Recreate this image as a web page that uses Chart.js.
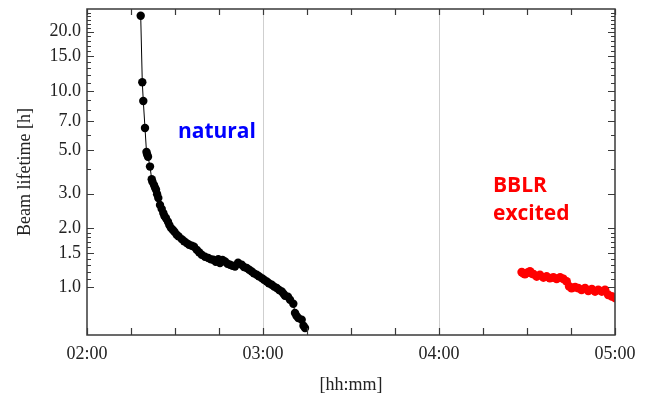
<!DOCTYPE html>
<html>
<head>
<meta charset="utf-8">
<script src="https://cdn.jsdelivr.net/npm/chart.js@4/dist/chart.umd.min.js"></script>
<style>
  html, body { margin: 0; padding: 0; background: #fff; }
  canvas { display: block; }
</style>
</head>
<body>
<canvas id="c" width="650" height="401"></canvas>
<script>
// ---- data (time in minutes after midnight, lifetime in hours) ----
const naturalTime = [138.31,138.85,139.19,139.77,140.28,140.5,140.8,141.48,142.06,142.3,142.84,143.2,143.52,143.9,144.31,144.89,145.47,146.01,146.4,146.93,147.6,148.06,148.6,149.22,149.8,150.58,151.2,152.28,153.1,153.99,154.8,155.69,156.5,157.4,158.2,159.1,160.23,161.35,162.3,163.06,163.9,164.76,165.34,166.2,167.05,167.9,168.75,169.6,170.45,171.5,172.74,173.5,174.44,175.3,176.15,176.9,177.85,178.6,179.56,180.34,181.26,182.0,182.97,183.8,184.67,185.5,186.38,187.0,187.5,188.5,189.2,190.33,190.91,191.4,192.03,193.19,193.8,194.32];
const naturalLifetime = [24.1,11.06,8.89,6.48,4.89,4.75,4.62,4.12,3.55,3.45,3.32,3.22,3.14,2.98,2.85,2.63,2.51,2.39,2.31,2.25,2.16,2.08,2.01,1.965,1.92,1.853,1.82,1.762,1.72,1.681,1.65,1.629,1.61,1.554,1.51,1.466,1.432,1.411,1.39,1.383,1.35,1.394,1.33,1.38,1.356,1.32,1.304,1.29,1.279,1.335,1.304,1.27,1.255,1.23,1.206,1.18,1.16,1.14,1.116,1.094,1.073,1.05,1.032,1.01,0.993,0.97,0.954,0.93,0.907,0.897,0.866,0.826,0.741,0.718,0.699,0.685,0.639,0.622];

const excitedTime = [268.2,268.8,269.3,270.2,271.0,271.6,272.2,273.3,274.4,275.6,276.7,277.8,279.0,280.1,281.3,282.4,283.5,284.4,285.2,286.4,287.5,288.6,289.8,290.9,292.1,293.2,294.3,295.5,296.6,297.7,298.9,300.0];
const excitedLifetime = [1.197,1.18,1.170,1.19,1.206,1.18,1.170,1.137,1.160,1.124,1.137,1.116,1.124,1.107,1.124,1.107,1.073,1.012,0.993,1.005,0.993,0.973,0.993,0.962,0.981,0.954,0.973,0.954,0.973,0.918,0.900,0.884];

// ---- ticks ----
const xTickValues = [120, 180, 240, 300];
const xTickLabels = ['02:00', '03:00', '04:00', '05:00'];
const xMinorTicks = [135,150,165,195,210,225,255,270,285];
const yTickValues = [1.0, 1.5, 2.0, 3.0, 5.0, 7.0, 10.0, 15.0, 20.0];
const yTickLabels = ['1.0', '1.5', '2.0', '3.0', '5.0', '7.0', '10.0', '15.0', '20.0'];
const yMinorTicks = [1.1,1.2,1.3,1.4,1.6,1.7,1.8,1.9,4,6,8,9,11,12,13,14,16,17,18,19,21,22,23,24,25];

const annotationTexts = ['natural', 'BBLR', 'excited'];

const axisFont = { family: '"Liberation Serif", "Times New Roman", serif', size: 18 };
const frameColor = '#3a3a3a';
const textColor = '#222';

const decorations = {
  id: 'decorations',
  afterDatasetsDraw(chart) {
    const { ctx, chartArea: a, scales: { x, y } } = chart;
    ctx.save();
    ctx.strokeStyle = frameColor;
    ctx.lineWidth = 1.2;
    ctx.beginPath();
    const xt = xTickValues.concat(xMinorTicks);
    xt.forEach(v => {
      const px = Math.round(x.getPixelForValue(v)) + 0.5;
      ctx.moveTo(px, a.bottom); ctx.lineTo(px, a.bottom - 7);
      ctx.moveTo(px, a.top); ctx.lineTo(px, a.top + 6);
    });
    yTickValues.forEach(v => {
      const py = Math.round(y.getPixelForValue(v)) + 0.5;
      ctx.moveTo(a.left, py); ctx.lineTo(a.left + 7, py);
      ctx.moveTo(a.right, py); ctx.lineTo(a.right - 7, py);
    });
    yMinorTicks.forEach(v => {
      const py = Math.round(y.getPixelForValue(v)) + 0.5;
      ctx.moveTo(a.left, py); ctx.lineTo(a.left + 4, py);
      ctx.moveTo(a.right, py); ctx.lineTo(a.right - 4, py);
    });
    ctx.stroke();
    ctx.lineWidth = 1.5;
    ctx.strokeRect(a.left, a.top, a.width, a.height);

    ctx.font = 'bold 21px "Open Sans", "Noto Sans", sans-serif';
    ctx.textBaseline = 'alphabetic';
    ctx.textAlign = 'left';
    ctx.fillStyle = '#0000ff';
    ctx.fillText(annotationTexts[0], x.getPixelForValue(151.0), y.getPixelForValue(5.77));
    ctx.fillStyle = '#ff0000';
    ctx.fillText(annotationTexts[1], x.getPixelForValue(258.4), y.getPixelForValue(3.07));
    ctx.fillText(annotationTexts[2], x.getPixelForValue(258.4), y.getPixelForValue(2.21));
    ctx.restore();
  }
};

new Chart(document.getElementById('c'), {
  type: 'scatter',
  data: {
    datasets: [
      {
        label: 'natural',
        data: naturalTime.map((t, i) => ({ x: t, y: naturalLifetime[i] })),
        showLine: true,
        borderColor: '#000',
        borderWidth: 1,
        pointRadius: 4.2,
        pointBackgroundColor: '#000',
        pointBorderWidth: 0,
        tension: 0
      },
      {
        label: 'BBLR excited',
        data: excitedTime.map((t, i) => ({ x: t, y: excitedLifetime[i] })),
        showLine: false,
        pointRadius: 4.4,
        pointBackgroundColor: '#ff0000',
        pointBorderWidth: 0
      }
    ]
  },
  options: {
    responsive: false,
    animation: false,
    devicePixelRatio: 1,
    layout: { padding: { left: 0, right: 35, top: 9, bottom: 0 } },
    plugins: { legend: { display: false }, tooltip: { enabled: false } },
    scales: {
      x: {
        type: 'linear',
        min: 120, max: 300,
        afterBuildTicks: s => { s.ticks = xTickValues.map(v => ({ value: v })); },
        afterFit: s => { s.height = 66; s.paddingLeft = 0; s.paddingRight = 0; },
        ticks: {
          autoSkip: false, maxRotation: 0,
          font: { ...axisFont, lineHeight: 1.2 },
          color: textColor,
          padding: 8,
          callback: v => xTickLabels[xTickValues.indexOf(v)]
        },
        grid: {
          drawTicks: false,
          tickLength: 0,
          lineWidth: 1,
          color: c => (c.tick && c.tick.value > 120 && c.tick.value < 300) ? '#cfcfcf' : 'rgba(0,0,0,0)'
        },
        border: { display: false },
        title: {
          display: true, text: '[hh:mm]',
          font: { ...axisFont, lineHeight: 1.2 },
          color: textColor,
          padding: { top: 4, bottom: 5 }
        }
      },
      y: {
        type: 'logarithmic',
        min: 0.573, max: 26.1,
        afterBuildTicks: s => { s.ticks = yTickValues.map(v => ({ value: v })); },
        afterFit: s => { s.width = 87; s.paddingTop = 0; s.paddingBottom = 0; },
        ticks: {
          autoSkip: false,
          font: { ...axisFont, lineHeight: 1.0 },
          color: textColor,
          padding: 6,
          callback: v => yTickLabels[yTickValues.indexOf(v)]
        },
        grid: { display: false, drawTicks: false, tickLength: 0 },
        border: { display: false },
        title: {
          display: true, text: 'Beam lifetime [h]',
          font: { ...axisFont, lineHeight: 1.2 },
          color: textColor,
          padding: { top: 14, bottom: 0 }
        }
      }
    }
  },
  plugins: [decorations]
});
</script>
</body>
</html>
